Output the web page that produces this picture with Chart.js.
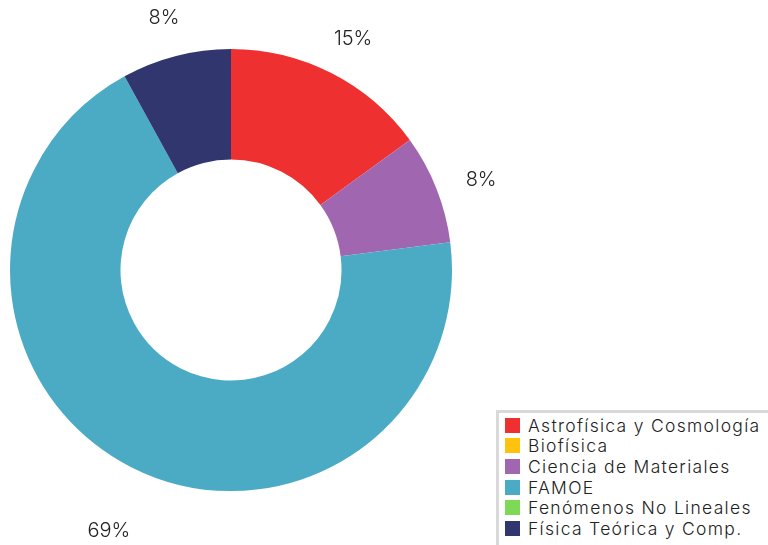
<!DOCTYPE html>
<html>
<head>
<meta charset="utf-8">
<script src="https://cdn.jsdelivr.net/npm/chart.js@4"></script>
<style>
    body { margin: 0; background: #fff; font-family: "Inter", "Open Sans", sans-serif; }
    #wrap { position: relative; width: 768px; height: 545px; overflow: hidden; }
    #legend {
        position: absolute; left: 496px; top: 410px; width: 266px; height: 150px;
        border: 3px solid #d9d9d9; background: #fff; padding: 2px 0 0 6px;
        font-weight: 300; font-size: 17.5px; letter-spacing: 1.3px; color: #222;
    }
    .item { display: flex; align-items: center; height: 20.6px; white-space: nowrap; }
    .box { width: 15px; height: 15px; margin-right: 8px; flex: none; }
</style>
</head>
<body>
<div id="wrap">
    <canvas id="chart" width="768" height="545"></canvas>
    <div id="legend"></div>
</div>
<script>
// 分野ごとの割合
const categories = ['Astrofísica y Cosmología', 'Biofísica', 'Ciencia de Materiales', 'FAMOE', 'Fenómenos No Lineales', 'Física Teórica y Comp.'];
const values = [15, 0, 8, 69, 0, 8];
const colors = ['#ee3130', '#ffc20e', '#a067b0', '#4babc5', '#7ed957', '#31376e'];

// 外側にパーセント表示
const outerLabels = {
    id: 'outerLabels',
    afterDatasetsDraw(chart) {
        const ctx = chart.ctx;
        const meta = chart.getDatasetMeta(0);
        ctx.save();
        ctx.font = '300 20px Inter, "Open Sans", sans-serif';
        ctx.fillStyle = '#222';
        ctx.textAlign = 'center';
        ctx.textBaseline = 'middle';
        meta.data.forEach((arc, i) => {
            if (!values[i]) return;
            const mid = (arc.startAngle + arc.endAngle) / 2;
            const r = arc.outerRadius + 48;
            const x = arc.x + Math.cos(mid) * r;
            const y = arc.y + Math.sin(mid) * r + 9 + (Math.sin(mid) > 0.6 ? 12 : 0);
            ctx.fillText(values[i] + '%', x, y);
        });
        ctx.restore();
    }
};

const chart = new Chart(document.getElementById('chart'), {
    type: 'doughnut',
    data: {
        labels: categories,
        datasets: [{
            data: values,
            backgroundColor: colors,
            borderWidth: 0
        }]
    },
    options: {
        responsive: false,
        animation: false,
        cutout: '50%',
        layout: { padding: { left: 10, right: 316, top: 49, bottom: 54 } },
        plugins: {
            legend: { display: false },
            tooltip: { enabled: false }
        }
    },
    plugins: [outerLabels]
});

// 凡例
const legend = document.getElementById('legend');
categories.forEach((name, i) => {
    const item = document.createElement('div');
    item.className = 'item';
    const box = document.createElement('span');
    box.className = 'box';
    box.style.background = colors[i];
    item.appendChild(box);
    item.appendChild(document.createTextNode(name));
    legend.appendChild(item);
});
</script>
</body>
</html>
